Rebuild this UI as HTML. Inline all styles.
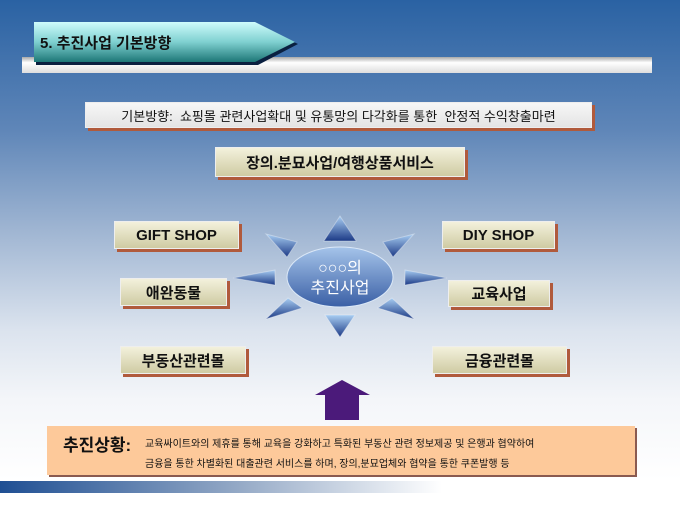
<!DOCTYPE html>
<html><head><meta charset="utf-8"><style>
body{margin:0;width:680px;height:510px;overflow:hidden;position:relative;font-family:"Liberation Sans","Noto Sans CJK KR",sans-serif;
background:linear-gradient(180deg,#2a62a3 0px,#5f86b8 130px,#9fb5d2 230px,#dbe3ee 330px,#f4f6f9 400px,#fff 480px);}
.bx{position:absolute;box-sizing:border-box;display:flex;align-items:center;justify-content:center;color:#111;font-weight:bold;
background:linear-gradient(180deg,#f3f1dc,#cfcba3);box-shadow:3px 3px 0 #b05a3c;border:1px solid #eee;}
</style></head><body>
<svg width="680" height="510" style="position:absolute;left:0;top:0">
<defs>
<linearGradient id="bar" x1="0" y1="0" x2="0" y2="1"><stop offset="0" stop-color="#a9a9a9"/><stop offset=".35" stop-color="#fff"/><stop offset="1" stop-color="#ddd"/></linearGradient>
<linearGradient id="ttl" x1="0" y1="0" x2="0" y2="1"><stop offset="0" stop-color="#cffcfc"/><stop offset=".5" stop-color="#7fd0d0"/><stop offset="1" stop-color="#1d7777"/></linearGradient>
<linearGradient id="ell" x1="0" y1="0" x2="0" y2="1"><stop offset="0" stop-color="#a5c4ea"/><stop offset="1" stop-color="#3a5fa5"/></linearGradient>
<linearGradient id="tri" x1="0" y1="0" x2="0" y2="1"><stop offset="0" stop-color="#a8cdf2"/><stop offset="1" stop-color="#1c3a86"/></linearGradient>
<linearGradient id="strip" x1="0" y1="0" x2="1" y2="0"><stop offset="0" stop-color="#1f4f93"/><stop offset=".35" stop-color="#94a9c6"/><stop offset=".65" stop-color="#fff"/></linearGradient>
</defs>
<rect x="22" y="57" width="630" height="16" fill="url(#bar)"/>
<polygon points="36,25 258,25 298,44 258,65 36,65" fill="#0a2040"/>
<polygon points="34,22 255,22 295,42 255,62 34,62" fill="url(#ttl)"/>
<text x="40" y="48" font-size="15" font-weight="bold" fill="#111" font-family="Liberation Sans,Noto Sans CJK KR,sans-serif">5. 추진사업 기본방향</text>
<g fill="url(#tri)" stroke="#ffffff55">
<polygon points="340,216 324,241 356,241"/>
<polygon points="266,234 297,242 287,257"/>
<polygon points="414,234 383,242 393,257"/>
<polygon points="233,278 275,270 275,285"/>
<polygon points="447,278 405,270 405,285"/>
<polygon points="266,319 302,308 288,298"/>
<polygon points="414,319 378,308 392,298"/>
<polygon points="340,337 325,315 355,315"/>
</g>
<ellipse cx="340" cy="277" rx="53" ry="30" fill="url(#ell)" stroke="#dbe8f7" stroke-width="1"/>
<text x="340" y="273" font-size="16" fill="#fff" text-anchor="middle" font-family="Liberation Sans,Noto Sans CJK KR,sans-serif">○○○의</text>
<text x="340" y="293" font-size="16" fill="#fff" text-anchor="middle" font-family="Liberation Sans,Noto Sans CJK KR,sans-serif">추진사업</text>
<polygon points="342,380 370,395 359,395 359,420 325,420 325,395 315,395" fill="#4b1a7a"/>
<rect x="0" y="481" width="680" height="12" fill="url(#strip)"/>
</svg>
<div class="bx" style="left:85px;top:102px;width:507px;height:26px;background:linear-gradient(#f7f7f7,#e4e4e4);font-weight:normal;font-size:13px;">기본방향:&nbsp; 쇼핑몰 관련사업확대 및 유통망의 다각화를 통한&nbsp; 안정적 수익창출마련</div>
<div class="bx" style="left:215px;top:147px;width:250px;height:30px;font-size:15px;">장의.분묘사업/여행상품서비스</div>
<div class="bx" style="left:114px;top:221px;width:125px;height:28px;font-size:15px;">GIFT SHOP</div>
<div class="bx" style="left:442px;top:221px;width:113px;height:28px;font-size:15px;">DIY SHOP</div>
<div class="bx" style="left:120px;top:278px;width:107px;height:28px;font-size:15px;">애완동물</div>
<div class="bx" style="left:448px;top:280px;width:102px;height:27px;font-size:15px;">교육사업</div>
<div class="bx" style="left:120px;top:346px;width:126px;height:28px;font-size:15px;">부동산관련몰</div>
<div class="bx" style="left:432px;top:346px;width:135px;height:28px;font-size:15px;">금융관련몰</div>
<div style="position:absolute;left:47px;top:426px;width:588px;height:49px;background:#fdc99a;box-shadow:2px 2px 0 #8a5a50;box-sizing:border-box;font-size:10px;color:#111;">
<div style="position:absolute;left:16px;top:5px;font-size:17px;font-weight:bold;">추진상황:</div>
<div style="position:absolute;left:98px;top:9px;white-space:nowrap;">교육싸이트와의 제휴를 통해 교육을 강화하고 특화된 부동산 관련 정보제공 및 은행과 협약하여</div>
<div style="position:absolute;left:98px;top:29px;white-space:nowrap;">금융을 통한 차별화된 대출관련 서비스를 하며, 장의,분묘업체와 협약을 통한 쿠폰발행 등</div>
</div>
</body></html>
